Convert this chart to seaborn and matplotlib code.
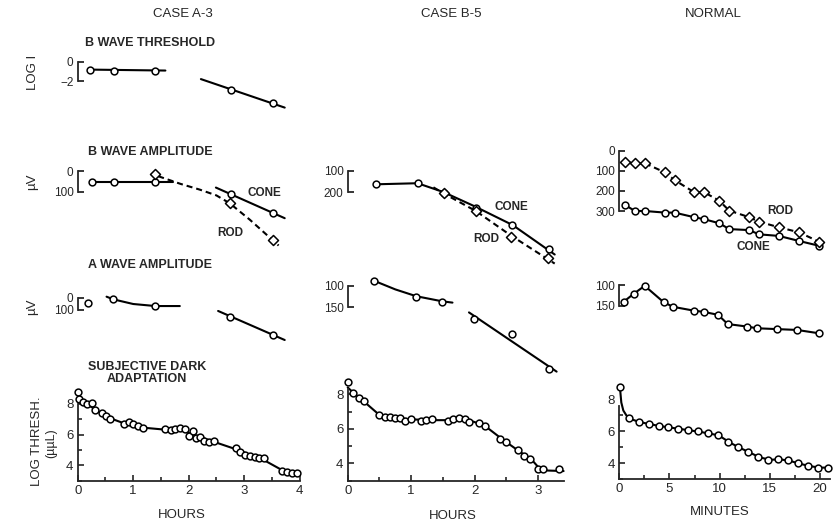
import matplotlib
matplotlib.use("Agg")
import matplotlib.pyplot as plt
import seaborn as sns
from matplotlib.ticker import MultipleLocator

# figure size in pixels (saved at dpi 100)
W, H = 833, 528

# ---------------- CASE A-3 (hours) ----------------
a3_bthr_t = [0.22, 0.65, 1.40, 2.77, 3.51]
a3_bthr_logi = [-0.8, -0.9, -0.9, -2.9, -4.3]
a3_bthr_fit1_t = [0.22, 1.58]
a3_bthr_fit1_logi = [-0.8, -0.9]
a3_bthr_fit2_t = [2.22, 3.73]
a3_bthr_fit2_logi = [-1.8, -4.8]

a3_bcone_t = [0.25, 0.65, 1.39, 2.77, 3.52]
a3_bcone_uv = [52, 52, 52, 113, 201]
a3_brod_t = [1.40, 2.74, 3.52]
a3_brod_uv = [16, 156, 333]
a3_bcone_fit1_t = [0.25, 1.71]
a3_bcone_fit1_uv = [52, 52]
a3_bcone_fit2_t = [2.49, 3.73]
a3_bcone_fit2_uv = [80, 228]
a3_brod_fit_t = [1.45, 1.85, 2.2, 2.5, 2.74, 3.1, 3.35, 3.62]
a3_brod_fit_uv = [25, 62, 90, 118, 156, 235, 295, 360]

a3_a_t = [0.19, 0.64, 1.40, 2.75, 3.52]
a3_a_uv = [39, 11, 67, 156, 308]
a3_a_fit1_t = [0.52, 0.64, 1.0, 1.4, 1.84]
a3_a_fit1_uv = [-11, 11, 50, 67, 67]
a3_a_fit2_t = [2.53, 3.73]
a3_a_fit2_uv = [108, 350]

a3_dark_t = [0.01, 0.02, 0.10, 0.17, 0.25, 0.32, 0.43, 0.51, 0.58, 0.83, 0.92,
             1.00, 1.09, 1.18, 1.58, 1.68, 1.75, 1.85, 1.93, 2.00, 2.08, 2.14,
             2.20, 2.28, 2.37, 2.46, 2.86, 2.93, 3.01, 3.10, 3.19, 3.26, 3.35,
             3.69, 3.77, 3.86, 3.95]
a3_dark_log = [8.76, 8.33, 8.15, 7.98, 8.09, 7.60, 7.39, 7.22, 7.00, 6.67, 6.80,
               6.70, 6.59, 6.46, 6.35, 6.30, 6.35, 6.41, 6.37, 5.91, 6.26, 5.76,
               5.87, 5.61, 5.54, 5.59, 5.11, 4.85, 4.67, 4.63, 4.57, 4.46, 4.50,
               3.65, 3.59, 3.48, 3.48]
a3_dark_fit_t = [0.0, 0.1, 0.25, 0.4, 0.6, 0.85, 1.2, 1.5, 1.85, 2.05, 2.4,
                 2.85, 3.1, 3.35, 3.65, 3.8, 4.0]
a3_dark_fit_log = [8.35, 8.1, 7.8, 7.45, 7.05, 6.72, 6.45, 6.35, 6.3, 6.05, 5.6,
                   5.05, 4.7, 4.35, 3.75, 3.55, 3.45]

# ---------------- CASE B-5 (hours) ----------------
b5_bcone_t = [0.44, 1.10, 1.51, 2.02, 2.58, 3.17]
b5_bcone_uv = [163, 158, 202, 271, 351, 462]
b5_brod_t = [1.51, 2.02, 2.57, 3.16]
b5_brod_uv = [205, 287, 405, 506]
b5_bcone_fit_t = [0.44, 1.10, 1.5, 2.0, 2.6, 3.26]
b5_bcone_fit_uv = [163, 158, 198, 265, 352, 488]
b5_brod_fit_t = [1.35, 1.51, 2.02, 2.57, 3.26]
b5_brod_fit_uv = [177, 205, 287, 400, 530]

b5_a_t = [0.42, 1.08, 1.49, 1.99, 2.59, 3.17]
b5_a_uv = [88, 125, 137, 178, 213, 296]
b5_a_fit1_t = [0.42, 0.75, 1.08, 1.49, 1.65]
b5_a_fit1_uv = [88, 108, 124, 136, 139]
b5_a_fit2_t = [1.91, 3.29]
b5_a_fit2_uv = [162, 301]

b5_dark_t = [0.01, 0.09, 0.18, 0.26, 0.50, 0.59, 0.67, 0.74, 0.82, 0.91, 0.99,
             1.15, 1.24, 1.32, 1.58, 1.66, 1.75, 1.84, 1.91, 2.07, 2.16, 2.40,
             2.50, 2.68, 2.78, 2.87, 3.00, 3.08, 3.33]
b5_dark_log = [8.73, 8.10, 7.77, 7.63, 6.80, 6.71, 6.67, 6.61, 6.65, 6.47, 6.57,
               6.47, 6.51, 6.57, 6.45, 6.57, 6.61, 6.57, 6.42, 6.32, 6.18, 5.39,
               5.22, 4.77, 4.42, 4.23, 3.65, 3.65, 3.65]
b5_dark_fit_t = [0.0, 0.1, 0.25, 0.5, 0.7, 1.0, 1.3, 1.6, 1.78, 1.95, 2.15,
                 2.45, 2.7, 2.9, 3.02, 3.15, 3.4]
b5_dark_fit_log = [8.4, 8.05, 7.6, 6.8, 6.63, 6.55, 6.5, 6.5, 6.6, 6.45, 6.2,
                   5.35, 4.7, 4.2, 3.7, 3.58, 3.55]

# ---------------- NORMAL (minutes) ----------------
n_b_t = [0.57, 1.56, 2.56, 4.55, 5.5, 7.47, 8.47, 9.96, 10.95, 12.95, 13.9,
         15.9, 17.9, 19.9]
n_brod_uv = [55, 63, 63, 108, 146, 207, 207, 249, 298, 331, 353, 381, 406, 453]
n_bcone_uv = [270, 300, 300, 308, 308, 331, 341, 361, 390, 395, 416, 424, 449, 473]

n_a_t = [0.43, 1.43, 2.53, 4.42, 5.36, 7.41, 8.41, 9.84, 10.8, 12.75, 13.7,
         15.7, 17.7, 19.9]
n_a_uv = [140, 121, 102, 141, 152, 161, 164, 171, 193, 199, 203, 205, 207, 215]

n_dark_t = [0.07, 1.0, 1.96, 2.92, 3.92, 4.88, 5.88, 6.88, 7.87, 8.87, 9.87,
            10.8, 11.8, 12.8, 13.8, 14.85, 15.85, 16.84, 17.84, 18.84, 19.83, 20.8]
n_dark_log = [8.78, 6.82, 6.58, 6.45, 6.35, 6.27, 6.16, 6.10, 6.00, 5.90, 5.79,
              5.34, 5.01, 4.72, 4.39, 4.21, 4.29, 4.19, 4.00, 3.84, 3.73, 3.73]
n_dark_fit_t = [0.07, 0.2, 0.4, 0.7, 1.0, 2, 4, 6, 8, 9.9, 11, 12, 13, 14, 15,
                16, 17, 18, 19, 20, 21]
n_dark_fit_log = [8.7, 7.8, 7.3, 7.0, 6.8, 6.58, 6.33, 6.15, 5.97, 5.75, 5.3,
                  4.97, 4.67, 4.37, 4.22, 4.25, 4.15, 3.97, 3.82, 3.73, 3.73]

# ---------------- style ----------------
sns.set_theme(style="ticks")
plt.rcParams['font.family'] = ['Liberation Sans', 'DejaVu Sans']
plt.rcParams['axes.linewidth'] = 1.3

fig = plt.figure(figsize=(W / 100, H / 100), dpi=100)

DASH = (0, (2.9, 1.9))


def panel(x0, x1, xlim, ylim, ref):
    # ref: two (pixel_y, value) pairs that fix the vertical scale
    (p1, v1), (p2, v2) = ref
    k = (p2 - p1) / (v2 - v1)
    pa = p1 + (ylim[0] - v1) * k
    pb = p1 + (ylim[1] - v1) * k
    top, bot = min(pa, pb), max(pa, pb)
    ax = fig.add_axes([x0 / W, 1 - bot / H, (x1 - x0) / W, (bot - top) / H])
    ax.patch.set_alpha(0)
    return ax


def line(ax, t, v, dashed=False):
    sns.lineplot(x=t, y=v, ax=ax, color='black', lw=1.5, sort=False,
                 estimator=None, clip_on=False,
                 linestyle=DASH if dashed else '-')


def dots(ax, t, v, marker='o', s=24):
    sns.scatterplot(x=t, y=v, ax=ax, marker=marker, s=s, color='white',
                    edgecolor='black', linewidth=1.1, zorder=3, clip_on=False)


def bracket(ax, xlim, ylim, lo, hi, ticks):
    for side in ['top', 'right', 'bottom']:
        ax.spines[side].set_visible(False)
    ax.spines['left'].set_bounds(lo, hi)
    ax.set_xticks([])
    ax.set_yticks(ticks)
    ax.tick_params(axis='y', direction='in', length=4, width=1.3, pad=3,
                   labelsize=8.5)
    ax.set_xlim(xlim)
    ax.set_ylim(ylim)
    ax.set_xlabel('')
    ax.set_ylabel('')


def bottom(ax, xlim, major, minor, spine_top):
    sns.despine(ax=ax)
    ax.spines['left'].set_bounds(3, spine_top)
    ax.set_xlim(xlim)
    ax.set_ylim(3, 8.3)
    ax.xaxis.set_major_locator(MultipleLocator(major))
    ax.xaxis.set_minor_locator(MultipleLocator(minor))
    ax.set_yticks([4, 6, 8])
    ax.yaxis.set_minor_locator(MultipleLocator(1))
    ax.tick_params(which='both', direction='in', width=1.2, labelsize=9.5, pad=3)
    ax.tick_params(which='major', length=4)
    ax.tick_params(which='minor', length=3)
    ax.set_xlabel('')
    ax.set_ylabel('')


BOLD = dict(fontsize=8.5, fontweight='bold', ha='center', va='center')

# column x extents (pixels) and time limits
LX, LXL = (77.7, 299.7), (0, 4)
MX, MXL = (347.7, 563.6), (0, 3.4)
RX, RXL = (619.3, 830.1), (0, 21)

# ---- CASE A-3 ----
ax = panel(*LX, LXL, (-5.3, 0.7), ((62, 0), (81, -2)))
line(ax, a3_bthr_fit1_t, a3_bthr_fit1_logi)
line(ax, a3_bthr_fit2_t, a3_bthr_fit2_logi)
dots(ax, a3_bthr_t, a3_bthr_logi)
bracket(ax, LXL, (-5.3, 0.7), -2, 0, [-2, 0])

ax = panel(*LX, LXL, (380, -55), ((171, 0), (191.7, 100)))
line(ax, a3_bcone_fit1_t, a3_bcone_fit1_uv)
line(ax, a3_bcone_fit2_t, a3_bcone_fit2_uv)
line(ax, a3_brod_fit_t, a3_brod_fit_uv, dashed=True)
dots(ax, a3_bcone_t, a3_bcone_uv)
dots(ax, a3_brod_t, a3_brod_uv, marker='D', s=26)
bracket(ax, LXL, (380, -55), 0, 100, [0, 100])
ax.text(3.37, 108, 'CONE', **BOLD)
ax.text(2.74, 301, 'ROD', **BOLD)

ax = panel(*LX, LXL, (430, -110), ((298, 0), (310, 100)))
line(ax, a3_a_fit1_t, a3_a_fit1_uv)
line(ax, a3_a_fit2_t, a3_a_fit2_uv)
dots(ax, a3_a_t, a3_a_uv)
bracket(ax, LXL, (430, -110), 0, 100, [0, 100])

ax = panel(*LX, LXL, (3, 8.3), ((404, 8), (465.3, 4)))
line(ax, a3_dark_fit_t, a3_dark_fit_log)
dots(ax, a3_dark_t, a3_dark_log)
bottom(ax, LXL, 1, 0.5, 8.0)

# ---- CASE B-5 ----
ax = panel(*MX, MXL, (560, 50), ((170.7, 100), (192.3, 200)))
line(ax, b5_bcone_fit_t, b5_bcone_fit_uv)
line(ax, b5_brod_fit_t, b5_brod_fit_uv, dashed=True)
dots(ax, b5_bcone_t, b5_bcone_uv)
dots(ax, b5_brod_t, b5_brod_uv, marker='D', s=26)
bracket(ax, MXL, (560, 50), 100, 200, [100, 200])
ax.text(2.58, 269, 'CONE', **BOLD)
ax.text(2.18, 416, 'ROD', **BOLD)

ax = panel(*MX, MXL, (320, 65), ((286, 100), (307.3, 150)))
line(ax, b5_a_fit1_t, b5_a_fit1_uv)
line(ax, b5_a_fit2_t, b5_a_fit2_uv)
dots(ax, b5_a_t, b5_a_uv)
bracket(ax, MXL, (320, 65), 100, 150, [100, 150])

ax = panel(*MX, MXL, (3, 8.3), ((394.3, 8), (463.3, 4)))
line(ax, b5_dark_fit_t, b5_dark_fit_log)
dots(ax, b5_dark_t, b5_dark_log)
bottom(ax, MXL, 1, 0.5, 8.3)

# ---- NORMAL ----
ax = panel(*RX, RXL, (520, -30), ((150.7, 0), (211, 300)))
line(ax, n_b_t, n_bcone_uv)
line(ax, n_b_t, n_brod_uv, dashed=True)
dots(ax, n_b_t, n_bcone_uv)
dots(ax, n_b_t, n_brod_uv, marker='D', s=26)
bracket(ax, RXL, (520, -30), 0, 300, [0, 100, 200, 300])
ax.text(16.07, 300, 'ROD', **BOLD)
ax.text(13.4, 481, 'CONE', **BOLD)

ax = panel(*RX, RXL, (245, 70), ((285, 100), (306, 150)))
line(ax, n_a_t, n_a_uv)
dots(ax, n_a_t, n_a_uv)
bracket(ax, RXL, (245, 70), 100, 150, [100, 150])

ax = panel(*RX, RXL, (3, 8.3), ((399.3, 8), (463.3, 4)))
line(ax, n_dark_fit_t, n_dark_fit_log)
dots(ax, n_dark_t, n_dark_log)
bottom(ax, RXL, 5, 2.5, 7.6)
ax.yaxis.get_major_ticks()[-1].tick1line.set_visible(False)

# ---- figure text ----
def ftext(x, y, s, **kw):
    fig.text(x / W, 1 - y / H, s, ha='center', va='center', **kw)


ftext(183, 14, 'CASE A-3', fontsize=9.5)
ftext(451.7, 14, 'CASE B-5', fontsize=9.5)
ftext(713.3, 14, 'NORMAL', fontsize=9.5)

ftext(150, 42.7, 'B WAVE THRESHOLD', fontsize=9, fontweight='bold')
ftext(150, 151.7, 'B WAVE AMPLITUDE', fontsize=9, fontweight='bold')
ftext(150, 265, 'A WAVE AMPLITUDE', fontsize=9, fontweight='bold')
ftext(147, 373, 'SUBJECTIVE DARK\nADAPTATION', fontsize=9, fontweight='bold',
      linespacing=1.0)

ftext(33, 72, 'LOG I', fontsize=9.5, rotation=90)
ftext(32, 181.7, 'µV', fontsize=9.5, rotation=90)
ftext(32, 306.7, 'µV', fontsize=9.5, rotation=90)
ftext(36.7, 441.7, 'LOG THRESH.', fontsize=9.5, rotation=90)
ftext(51.7, 443, '(µµL)', fontsize=9, rotation=90)

ftext(181.7, 515, 'HOURS', fontsize=9.5)
ftext(453, 516, 'HOURS', fontsize=9.5)
ftext(720, 512, 'MINUTES', fontsize=9.5)

fig.savefig('out.png', dpi=100)
